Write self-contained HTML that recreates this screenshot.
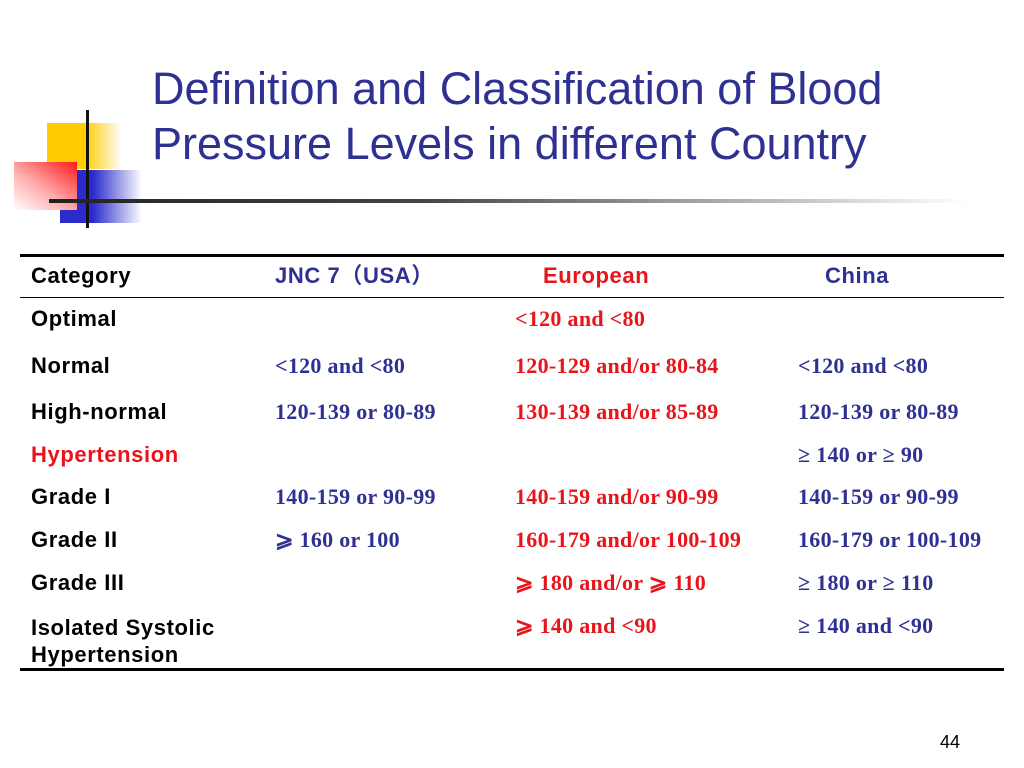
<!DOCTYPE html>
<html><head><meta charset="utf-8"><style>
body{margin:0;width:1024px;height:768px;background:#fff;position:relative;overflow:hidden;font-family:"Liberation Sans",sans-serif}
.a{position:absolute}
.t{position:absolute;left:152px;color:#2e3192;font-size:45px;line-height:55px;white-space:nowrap}
.c{position:absolute;font-weight:bold;font-size:22px;white-space:nowrap;line-height:24px}
.s{font-family:"Liberation Sans","Noto Sans CJK SC",sans-serif;color:#000;letter-spacing:0.6px}
.v{font-family:"Liberation Serif","Noto Serif CJK SC",serif;font-size:22px;letter-spacing:0.3px}
.b{color:#2e3192}.r{color:#e8141b}
</style></head><body>
<div class="a" style="left:47px;top:123px;width:75px;height:46px;background:linear-gradient(90deg,#ffcc00 0,#ffcc00 50%,#fff 100%)"></div>
<div class="a" style="left:60px;top:170px;width:82px;height:53px;background:linear-gradient(90deg,#2b2bcc 0,#2b2bcc 40%,#fff 100%)"></div>
<div class="a" style="left:14px;top:162px;width:63px;height:48px;background:linear-gradient(215deg,#ff1a1a 0,#ffaaaa 55%,#fff 100%)"></div>
<div class="a" style="left:86px;top:110px;width:3px;height:118px;background:#111"></div>
<div class="a" style="left:49px;top:199px;width:920px;height:4px;background:linear-gradient(90deg,#222 0,#444 40%,#fff 100%)"></div>
<div class="t" style="top:61px">Definition and Classification of Blood</div>
<div class="t" style="top:116px">Pressure Levels in different Country</div>
<div class="a" style="left:20px;top:254px;width:984px;height:3px;background:#000"></div>
<div class="a" style="left:20px;top:297px;width:984px;height:1px;background:#000"></div>
<div class="a" style="left:20px;top:668px;width:984px;height:3px;background:#000"></div>
<div>
<div class="c s" style="left:31px;top:264px">Category</div>
<div class="c s b" style="left:275px;top:264px;color:#2e3192">JNC 7（USA）</div>
<div class="c s r" style="left:543px;top:264px;color:#e8141b">European</div>
<div class="c s b" style="left:825px;top:264px;color:#2e3192">China</div>

<div class="c s" style="left:31px;top:307px">Optimal</div>
<div class="c v r" style="left:515px;top:307px">&lt;120 and &lt;80</div>

<div class="c s" style="left:31px;top:354px">Normal</div>
<div class="c v b" style="left:275px;top:354px">&lt;120 and &lt;80</div>
<div class="c v r" style="left:515px;top:354px">120-129 and/or 80-84</div>
<div class="c v b" style="left:798px;top:354px">&lt;120 and &lt;80</div>

<div class="c s" style="left:31px;top:400px">High-normal</div>
<div class="c v b" style="left:275px;top:400px">120-139 or 80-89</div>
<div class="c v r" style="left:515px;top:400px">130-139 and/or 85-89</div>
<div class="c v b" style="left:798px;top:400px">120-139 or 80-89</div>

<div class="c s" style="left:31px;top:443px;color:#e8141b">Hypertension</div>
<div class="c v b" style="left:798px;top:443px">≥ 140 or ≥ 90</div>

<div class="c s" style="left:31px;top:485px">Grade I</div>
<div class="c v b" style="left:275px;top:485px">140-159 or 90-99</div>
<div class="c v r" style="left:515px;top:485px">140-159 and/or 90-99</div>
<div class="c v b" style="left:798px;top:485px">140-159 or 90-99</div>

<div class="c s" style="left:31px;top:528px">Grade II</div>
<div class="c v b" style="left:275px;top:528px">⩾ 160 or 100</div>
<div class="c v r" style="left:515px;top:528px">160-179 and/or 100-109</div>
<div class="c v b" style="left:798px;top:528px">160-179 or 100-109</div>

<div class="c s" style="left:31px;top:571px">Grade III</div>
<div class="c v r" style="left:515px;top:571px">⩾ 180 and/or ⩾ 110</div>
<div class="c v b" style="left:798px;top:571px">≥ 180 or ≥ 110</div>

<div class="c s" style="left:31px;top:614px;line-height:27px">Isolated Systolic<br>Hypertension</div>
<div class="c v r" style="left:515px;top:614px">⩾ 140 and &lt;90</div>
<div class="c v b" style="left:798px;top:614px">≥ 140 and &lt;90</div>
</div>
<div class="a" style="left:940px;top:732px;font-size:18px">44</div>
</body></html>
